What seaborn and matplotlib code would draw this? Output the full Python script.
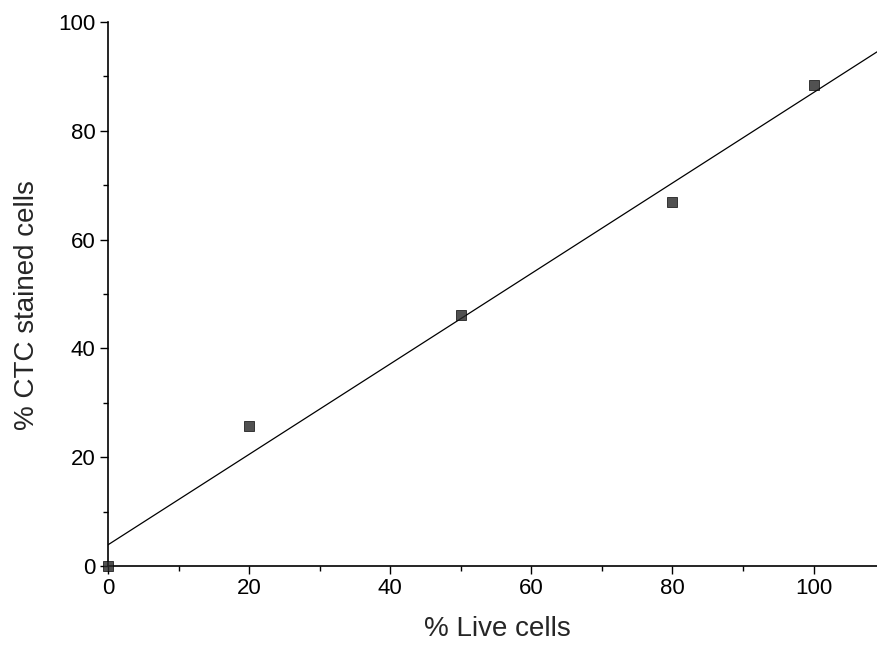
import numpy as np
import pandas as pd
import matplotlib
matplotlib.use("Agg")
import matplotlib.pyplot as plt
from matplotlib.ticker import MultipleLocator
import seaborn as sns

# Data
live_cells = [0, 20, 50, 80, 100]          # % Live cells
ctc_stained = [0.0, 25.8, 46.2, 66.9, 88.4]  # % CTC stained cells

x_ticks = [0, 20, 40, 60, 80, 100]
y_ticks = [0, 20, 40, 60, 80, 100]

df = pd.DataFrame({"% Live cells": live_cells, "% CTC stained cells": ctc_stained})

sns.set_style("ticks")
plt.rcParams["font.family"] = ["Liberation Sans", "DejaVu Sans"]

fig = plt.figure(figsize=(8.77, 6.45), dpi=100)
ax = fig.add_axes([108 / 877, 1 - 566 / 645, (877 - 108) / 877, (566 - 22) / 645])
ax.set_xlim(0, 109)
ax.set_ylim(0, 100)

sns.regplot(
    data=df, x="% Live cells", y="% CTC stained cells", ax=ax,
    ci=None, truncate=False,
    marker="s",
    scatter_kws=dict(s=60, color="#262626", edgecolor="black", linewidths=0.6,
                     clip_on=False, zorder=5),
    line_kws=dict(color="black", lw=0.9),
)

ax.set_xlim(0, 109)
ax.set_ylim(0, 100)
ax.set_xticks(x_ticks)
ax.set_yticks(y_ticks)
ax.xaxis.set_minor_locator(MultipleLocator(10))
ax.yaxis.set_minor_locator(MultipleLocator(10))
ax.tick_params(axis="both", which="major", length=6, width=1, labelsize=16,
               direction="out", color="black", labelcolor="black", pad=3)
ax.tick_params(axis="both", which="minor", length=3.5, width=1, direction="out",
               color="black")

for s in ["top", "right"]:
    ax.spines[s].set_visible(False)
for s in ["left", "bottom"]:
    ax.spines[s].set_color("black")
    ax.spines[s].set_linewidth(1.2)

ax.set_xlabel("% Live cells", fontsize=20)
ax.set_ylabel("% CTC stained cells", fontsize=20)
ax.xaxis.set_label_coords(0.506, -0.092)
ax.yaxis.set_label_coords(-0.088, 0.48)

fig.savefig("out.png", dpi=100)
